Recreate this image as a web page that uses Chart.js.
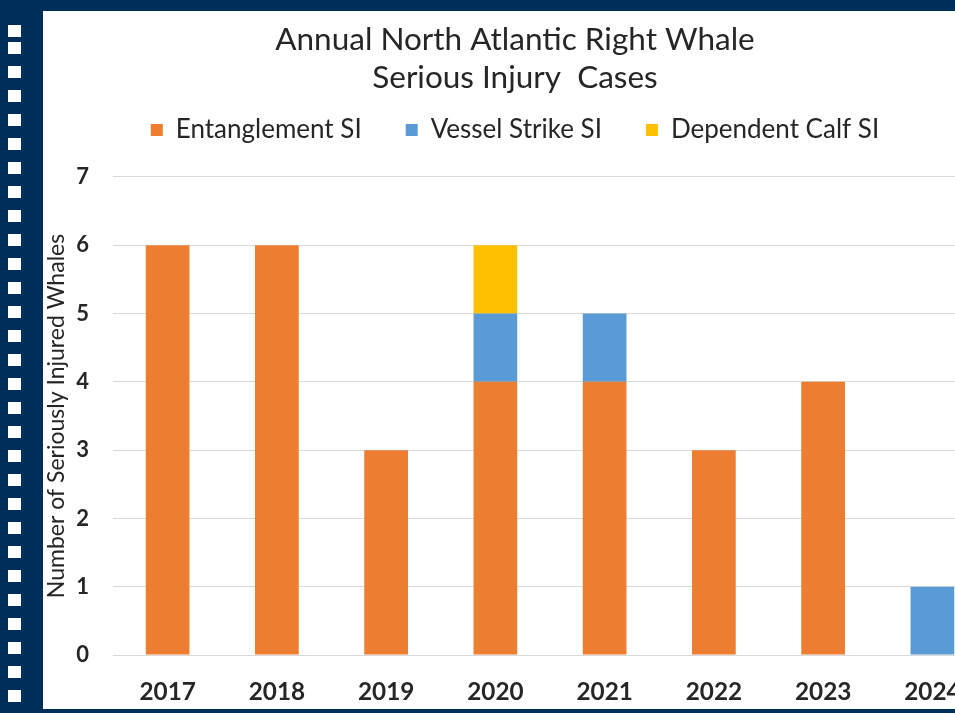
<!DOCTYPE html>
<html>
<head>
<meta charset="utf-8">
<script src="https://cdn.jsdelivr.net/npm/chart.js@4"></script>
<style>
  html, body { margin: 0; padding: 0; width: 955px; height: 713px; overflow: hidden; background: #002e5b; }
  #panel { position: absolute; left: 43px; top: 11px; width: 944px; height: 698px; background: #ffffff; }
  #wrap { position: absolute; left: 43px; top: 11px; width: 944px; height: 698px; }
  .hole { position: absolute; left: 8px; width: 13px; height: 12px; background: #ffffff; }
</style>
</head>
<body>
<div id="panel"></div>
<div id="holes"></div>
<div id="wrap"><canvas id="c" width="944" height="698"></canvas></div>
<script>
// film-strip decoration
(function(){
  const h = document.getElementById('holes');
  for (let i = 0; i < 28; i++) {
    const d = document.createElement('div');
    d.className = 'hole';
    d.style.top = (42 + i * 24) + 'px';
    h.appendChild(d);
  }
  const f = document.createElement('div');
  f.className = 'hole';
  f.style.top = '25px';
  h.appendChild(f);
})();

const years = ['2017', '2018', '2019', '2020', '2021', '2022', '2023', '2024'];
const entanglementSI = [6, 6, 3, 4, 4, 3, 4, 0];
const vesselStrikeSI = [0, 0, 0, 1, 1, 0, 0, 1];
const dependentCalfSI = [0, 0, 0, 1, 0, 0, 0, 0];
const yTicks = [0, 1, 2, 3, 4, 5, 6, 7];

const FONT = 'Lato, Carlito, Calibri, sans-serif';
const TXT = '#262626';

// extra space below the legend (layout only)
const legendGap = {
  id: 'legendGap',
  afterInit(chart) {
    const lg = chart.legend;
    if (lg && !lg._gapPatched) {
      const orig = lg.fit.bind(lg);
      lg.fit = function() { orig(); this.height += 24; };
      lg._gapPatched = true;
    }
  }
};

new Chart(document.getElementById('c'), {
  type: 'bar',
  data: {
    labels: years,
    datasets: [
      { label: 'Entanglement SI', data: entanglementSI, backgroundColor: '#ED7D31' },
      { label: 'Vessel Strike SI', data: vesselStrikeSI, backgroundColor: '#5B9BD5' },
      { label: 'Dependent Calf SI', data: dependentCalfSI, backgroundColor: '#FFC000' }
    ]
  },
  plugins: [legendGap],
  options: {
    responsive: false,
    animation: false,
    layout: { padding: 0 },
    datasets: { bar: { barPercentage: 0.4, categoryPercentage: 1.0 } },
    plugins: {
      title: {
        display: true,
        text: ['Annual North Atlantic Right Whale', 'Serious Injury  Cases'],
        color: TXT,
        font: { family: FONT, size: 31.5, weight: 'normal', lineHeight: 1.206 },
        padding: { top: 10, bottom: -24 }
      },
      legend: {
        display: true,
        position: 'top',
        labels: {
          color: TXT,
          font: { family: FONT, size: 26 },
          boxWidth: 12,
          boxHeight: 12,
          padding: 44
        }
      },
      tooltip: { enabled: false }
    },
    scales: {
      x: {
        stacked: true,
        grid: { display: false, drawTicks: false },
        border: { display: false },
        ticks: { color: TXT, font: { family: FONT, size: 24.3, weight: 'bold' }, padding: 23, maxRotation: 0, autoSkip: false },
        afterFit: (s) => { s.height = 54; }
      },
      y: {
        stacked: true,
        min: 0,
        max: 7,
        afterBuildTicks: (s) => { s.ticks = yTicks.map(v => ({ value: v })); },
        grid: { color: '#D9D9D9', lineWidth: 1, drawTicks: false },
        border: { display: false },
        ticks: { color: TXT, font: { family: FONT, size: 22, weight: 'bold' }, padding: 24 },
        title: {
          display: true,
          text: 'Number of Seriously Injured Whales',
          color: TXT,
          font: { family: FONT, size: 23, weight: 'normal', lineHeight: 1.2 },
          padding: 0
        },
        afterFit: (s) => { s.width = 70; }
      }
    }
  }
});
</script>
</body>
</html>
